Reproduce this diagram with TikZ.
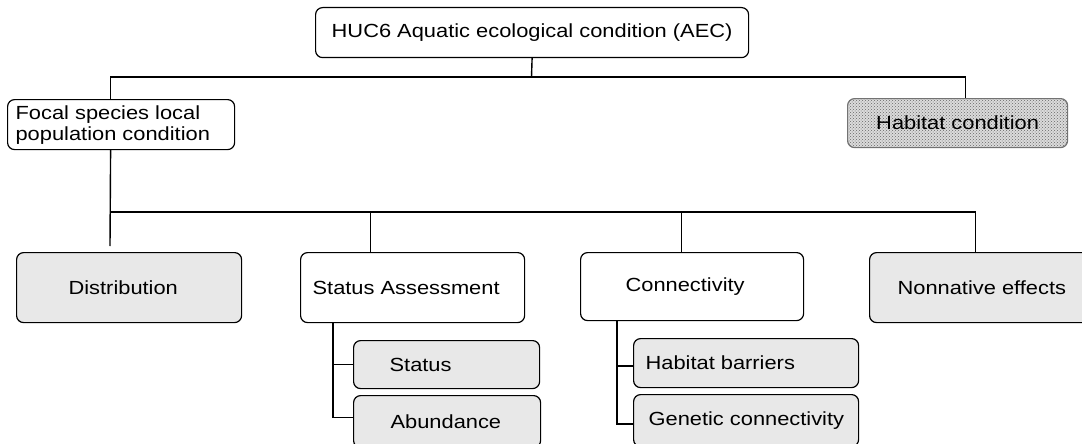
\documentclass[tikz,border=0pt]{standalone}
\usepackage{fontspec}
\setmainfont{Liberation Sans}[FakeStretch=1.15]
\usetikzlibrary{patterns}
\newcommand\lfttxt[2]{\makebox[#1][l]{#2}}
\begin{document}
\begin{tikzpicture}[x=1pt,y=-1pt,
  font=\fontsize{19}{21}\selectfont,
  box/.style={draw=black, line width=1.2pt, rounded corners=7pt, inner sep=0pt, anchor=north west, align=left},
  gbox/.style={box, fill=black!9},
  conn/.style={draw=black, line width=1.4pt},
  thickconn/.style={draw=black, line width=2pt}]
\clip (0,0) rectangle (1082,444);
\fill[white] (0,0) rectangle (1082,444);
% top
\node[box, minimum width=433pt, minimum height=50pt, align=center] (top) at (315,7)
  {HUC6 Aquatic ecological condition (AEC)};
% level 2
\node[box, minimum width=227pt, minimum height=50pt, inner xsep=8pt] (focal) at (7,99)
  {\fontsize{19}{19.5}\selectfont\lfttxt{211pt}{Focal species local}\\\lfttxt{211pt}{population condition}};
\node[box, draw=black!55, preaction={fill=black!14}, pattern=crosshatch dots, pattern color=black!60, minimum width=220pt, minimum height=49pt, align=center] (hab) at (847,98)
  {Habitat condition};
% level 3
\node[gbox, minimum width=225pt, minimum height=70pt, inner xsep=52pt] (dist) at (16,252)
  {\lfttxt{121pt}{Distribution}};
\node[box, minimum width=224pt, minimum height=70pt, inner xsep=12pt] (sa) at (300,252)
  {\lfttxt{200pt}{Status Assessment}};
\node[box, minimum width=223pt, minimum height=68pt, inner xsep=45pt] (con) at (580,252)
  {\lfttxt{133pt}{Connectivity}};
\node[gbox, minimum width=227pt, minimum height=70pt, inner xsep=28pt] (non) at (869,252)
  {\lfttxt{171pt}{Nonnative effects}};
% level 4
\node[gbox, minimum width=186pt, minimum height=48pt, inner xsep=36pt] (status) at (353,340)
  {\lfttxt{114pt}{Status}};
\node[gbox, minimum width=187pt, minimum height=52pt, inner xsep=37pt] (abund) at (353,395)
  {\lfttxt{113pt}{Abundance}};
\node[gbox, minimum width=225pt, minimum height=49pt, inner xsep=12pt] (hb) at (633,338)
  {\lfttxt{201pt}{Habitat barriers}};
\node[gbox, minimum width=225pt, minimum height=52pt, inner xsep=15pt] (gen) at (633,394)
  {\lfttxt{195pt}{Genetic connectivity}};
% connectors level 1-2
\coordinate (j1) at (531.5,77);
\draw[conn] (top.south) -- (j1);
\draw[conn] ([xshift=-10.5pt]focal.north) |- (j1) -| ([xshift=8pt]hab.north);
% connectors level 2-3
\coordinate (h2) at (110,212);
\coordinate (fb) at (110,246);
\draw[conn] ([xshift=-10.5pt]focal.south) -- (fb);
\draw[conn] (h2) -| ([xshift=-7.5pt]non.north);
\draw[conn] ([xshift=-42pt]sa.north) -- ([xshift=-42pt]sa.north |- h2);
\draw[conn] ([xshift=-10.5pt]con.north) -- ([xshift=-10.5pt]con.north |- h2);
% children
\draw[conn] ([xshift=33pt]sa.south west) |- (status.west);
\draw[conn] ([xshift=33pt]sa.south west) |- ([yshift=4pt]abund.west);
\draw[thickconn] ([xshift=37pt]con.south west) |- ([yshift=-3pt]hb.west);
\draw[thickconn] ([xshift=37pt]con.south west) |- ([yshift=-3pt]gen.west);
\end{tikzpicture}
\end{document}
